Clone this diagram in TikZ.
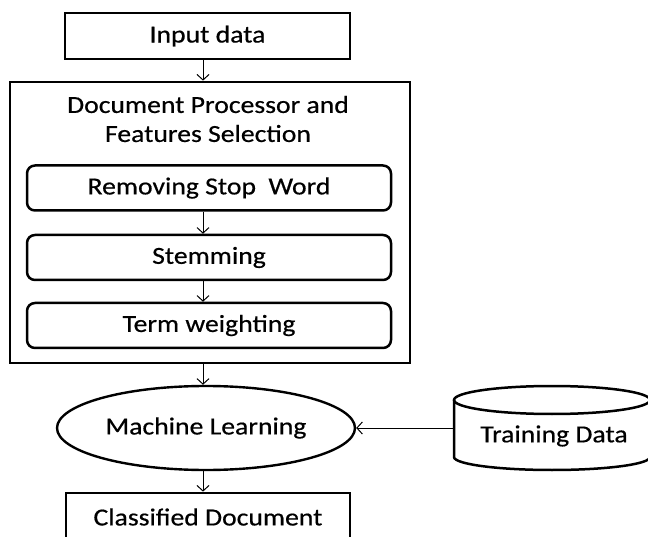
\documentclass[tikz,border=0pt]{standalone}
\usepackage{fontspec}
\setmainfont{Carlito}[FakeStretch=1.13,FakeBold=0.5]
\usetikzlibrary{arrows.meta,shapes.geometric}
\begin{document}
\begin{tikzpicture}[x=1pt,y=-1pt,
  lbl/.style={font=\fontsize{24.5}{29}\selectfont, text=black},
  box/.style={draw, line width=2.7pt, rectangle, inner sep=0pt, lbl},
  sub/.style={draw, line width=2.5pt, rounded corners=8pt, inner sep=0pt,
    minimum width=364pt, minimum height=45pt, lbl},
  flow/.style={-{Straight Barb[length=5.5pt,width=12pt]}, line width=1pt},
  drum/.style={line width=2.5pt}]
\clip (0,0) rectangle (648,537);
\useasboundingbox (0,0) rectangle (648,537);

% main column
\node[box, minimum width=285pt, minimum height=46pt] (input) at (207.5,36) {Input data};
\node[box, minimum width=400pt, minimum height=281pt] (proc) at (210,222.5) {};
\node[lbl, align=center] (proctitle) at (208,119) {Document Processor and\\Features Selection};
\node[sub] (stop) at (209,188) {Removing Stop\ \ Word};
\node[sub] (stem) at (209,257.5) {Stemming};
\node[sub] (term) at (209,325.5) {Term weighting};
\node[draw, ellipse, line width=2.4pt, minimum width=298pt, minimum height=84pt,
  inner sep=0pt, lbl] (ml) at (206,428) {Machine Learning};
\node[box, minimum width=284pt, minimum height=48pt] (out) at (208,517) {Classified Document};

% training data store
\draw[drum] (552,400) ellipse [x radius=98, y radius=14];
\draw[drum] (454,400) -- (454,457) arc[start angle=180, end angle=0, x radius=98, y radius=13] -- (650,400);
\node[lbl] (train) at (554,436) {Training Data};
\coordinate (trainL) at (454,428);

% connectors
\coordinate (ax) at (203,0);
\draw[flow] (input.south -| ax) -- (proc.north -| ax);
\draw[flow] (stop.south -| ax) -- (stem.north -| ax);
\draw[flow] (stem.south -| ax) -- (term.north -| ax);
\draw[flow] (proc.south -| ax) -- (ml.north -| ax);
\draw[flow] (ml.south -| ax) -- (out.north -| ax);
\draw[flow] (trainL) -- (ml.east);
\end{tikzpicture}
\end{document}
